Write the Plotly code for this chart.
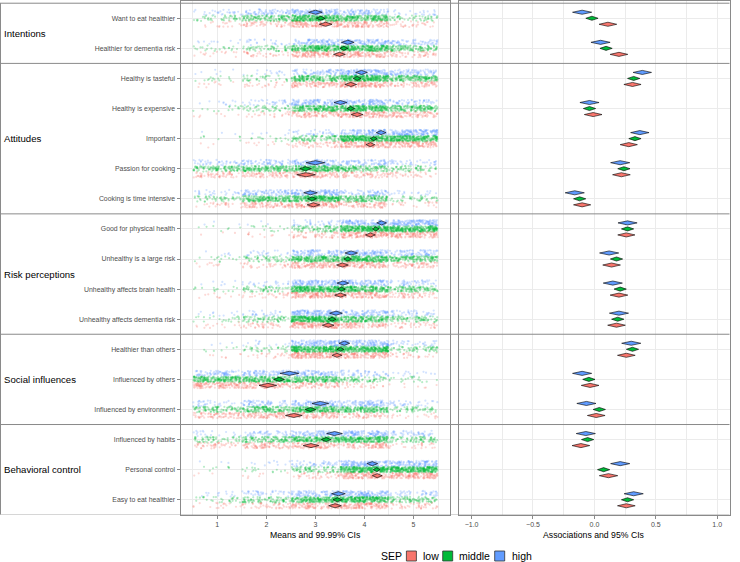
import math
import plotly.graph_objects as go

W, H = 740, 562

# ---------------- data ----------------
items = [
    "Want to eat healthier", "Healthier for dementia risk",
    "Healthy is tasteful", "Healthy is expensive", "Important",
    "Passion for cooking", "Cooking is time intensive",
    "Good for physical health", "Unhealthy is a large risk",
    "Unhealthy affects brain health", "Unhealthy affects dementia risk",
    "Healthier than others", "Influenced by others", "Influenced by environment",
    "Influenced by habits", "Personal control", "Easy to eat healthier",
]
groups = ["Intentions", "Attitudes", "Risk perceptions", "Social influences", "Behavioral control"]
group_n_items = [2, 5, 4, 3, 3]

sep_levels = ["low", "middle", "high"]
likert_levels = [1, 2, 3, 4, 5]
n_respondents = [340, 700, 320]   # respondents drawn per item (low, middle, high)

# % choosing response 1..5
pct_low = [
    [5, 15, 39, 32, 9], [4, 9, 36, 35, 16],
    [3, 6, 28, 42, 21], [2, 6, 26, 39, 27], [1, 3, 15, 43, 38], [17, 22, 31, 20, 10], [7, 26, 38, 23, 6],
    [1, 3, 15, 43, 38], [3, 9, 34, 35, 19], [3, 8, 40, 33, 16], [4, 11, 48, 26, 11],
    [2, 6, 46, 38, 8], [39, 30, 22, 7, 2], [22, 28, 29, 16, 5],
    [13, 24, 30, 26, 7], [1, 2, 11, 41, 45], [5, 13, 31, 39, 12],
]
pct_middle = [
    [6, 18, 40, 29, 7], [3, 8, 34, 37, 18],
    [2, 5, 25, 43, 25], [2, 7, 30, 38, 23], [1, 2, 13, 44, 40], [16, 24, 32, 19, 9], [7, 27, 38, 22, 6],
    [1, 2, 12, 43, 42], [2, 8, 31, 37, 22], [2, 8, 41, 33, 16], [3, 10, 48, 27, 12],
    [1, 5, 45, 40, 9], [30, 30, 27, 10, 3], [13, 22, 32, 25, 8],
    [8, 17, 30, 34, 11], [1, 2, 11, 42, 44], [4, 12, 31, 40, 13],
]
pct_high = [
    [8, 22, 37, 26, 7], [3, 7, 31, 38, 21],
    [2, 4, 22, 44, 28], [3, 10, 35, 35, 17], [1, 2, 10, 35, 52], [13, 20, 31, 24, 12], [8, 27, 38, 21, 6],
    [1, 1, 10, 37, 51], [2, 7, 30, 36, 25], [2, 7, 40, 35, 16], [3, 8, 46, 29, 14],
    [1, 4, 42, 43, 10], [24, 28, 29, 15, 4], [10, 19, 31, 30, 10],
    [6, 14, 28, 38, 14], [1, 3, 14, 42, 40], [4, 12, 30, 40, 14],
]

# means and 99.99% CI half-widths
mean_low = [3.21, 3.49, 3.72, 3.85, 4.12, 2.81, 2.96, 4.12, 3.55, 3.51, 3.26, 3.44, 2.03, 2.56, 2.91, 4.26, 3.40]
mean_middle = [3.11, 3.58, 3.85, 3.72, 4.19, 2.80, 2.93, 4.23, 3.66, 3.53, 3.34, 3.51, 2.26, 2.90, 3.22, 4.25, 3.45]
mean_high = [3.00, 3.66, 3.94, 3.51, 4.34, 3.00, 2.90, 4.35, 3.73, 3.56, 3.42, 3.59, 2.47, 3.10, 3.39, 4.16, 3.47]
ci_low = [0.13, 0.12, 0.12, 0.12, 0.09, 0.19, 0.13, 0.10, 0.12, 0.12, 0.12, 0.10, 0.18, 0.17, 0.16, 0.10, 0.13]
ci_middle = [0.09, 0.08, 0.08, 0.08, 0.07, 0.12, 0.09, 0.07, 0.08, 0.08, 0.08, 0.07, 0.11, 0.11, 0.10, 0.07, 0.09]
ci_high = [0.14, 0.13, 0.12, 0.13, 0.10, 0.19, 0.14, 0.10, 0.13, 0.12, 0.13, 0.11, 0.19, 0.17, 0.16, 0.11, 0.14]

# associations and 95% CI half-widths
assoc_low = [0.11, 0.20, 0.31, -0.01, 0.28, 0.22, -0.10, 0.26, 0.14, 0.20, 0.18, 0.26, -0.035, 0.015, -0.11, 0.115, 0.26]
assoc_middle = [-0.02, 0.095, 0.32, -0.04, 0.33, 0.24, -0.12, 0.27, 0.18, 0.21, 0.19, 0.31, -0.045, 0.04, -0.055, 0.075, 0.27]
assoc_high = [-0.10, 0.05, 0.39, -0.04, 0.37, 0.21, -0.16, 0.27, 0.12, 0.15, 0.20, 0.30, -0.10, -0.065, -0.07, 0.21, 0.32]
aci_low = [0.072, 0.072, 0.07, 0.072, 0.07, 0.072, 0.07, 0.07, 0.072, 0.072, 0.072, 0.072, 0.072, 0.072, 0.072, 0.075, 0.072]
aci_middle = [0.05, 0.05, 0.05, 0.05, 0.05, 0.05, 0.05, 0.05, 0.05, 0.05, 0.05, 0.05, 0.05, 0.05, 0.05, 0.05, 0.05]
aci_high = [0.078, 0.078, 0.075, 0.078, 0.075, 0.078, 0.078, 0.078, 0.078, 0.078, 0.078, 0.078, 0.078, 0.078, 0.078, 0.078, 0.078]

# ---------------- layout constants ----------------
sep_colors = ["#F8766D", "#00BA38", "#619CFF"]
row_offset = [0.2, 0.0, -0.2]
L_X0, L_X1 = 180.5, 450.3
R_X0, R_X1 = 459.3, 729.5
P_Y0, P_Y1 = 0.5, 514.5
Y_RANGE = [16.49, -0.59]
GRID = "#EBEBEB"
BORDER = "#8A8A8A"
FONT = "Liberation Sans, Arial, sans-serif"

_counter = [0]


def _hash01(k, seed):
    v = math.sin(k * 12.9898 + seed * 78.233) * 43758.5453
    return v - math.floor(v)


def jitter_cloud(pcts, n, row):
    """Deterministic jitter: each response spread within +-0.5 of its level."""
    xs, ys = [], []
    for lvl, p in zip(likert_levels, pcts):
        cnt = int(round(n * p / 100))
        for _ in range(cnt):
            _counter[0] += 1
            k = _counter[0]
            xs.append(lvl + (_hash01(k, 1.0) - 0.5) * 0.98)
            ys.append(row + (_hash01(k, 2.0) - 0.5) * 0.19)
    return xs, ys


def diamonds(centers, halfw, rows, dh=0.068):
    xs, ys = [], []
    for c, h, r in zip(centers, halfw, rows):
        xs += [c - h, c, c + h, c, c - h, None]
        ys += [r, r - dh, r, r + dh, r, None]
    return xs, ys


fig = go.Figure()

pcts_all = [pct_low, pct_middle, pct_high]
means_all = [mean_low, mean_middle, mean_high]
ci_all = [ci_low, ci_middle, ci_high]
assoc_all = [assoc_low, assoc_middle, assoc_high]
aci_all = [aci_low, aci_middle, aci_high]

# jittered responses
for s in [2, 1, 0]:
    xs, ys = [], []
    for i in range(len(items)):
        x, y = jitter_cloud(pcts_all[s][i], n_respondents[s], i + row_offset[s])
        xs += x
        ys += y
    fig.add_trace(go.Scatter(x=xs, y=ys, mode="markers", xaxis="x", yaxis="y",
                             marker=dict(size=2.2, color=sep_colors[s], opacity=0.28, line=dict(width=0)),
                             hoverinfo="skip", showlegend=False))

# mean diamonds and association diamonds
for s in [2, 1, 0]:
    rows = [i + row_offset[s] for i in range(len(items))]
    x, y = diamonds(means_all[s], ci_all[s], rows)
    fig.add_trace(go.Scatter(x=x, y=y, mode="lines", fill="toself", fillcolor=sep_colors[s],
                             line=dict(color="black", width=0.6), xaxis="x", yaxis="y",
                             hoverinfo="skip", showlegend=False))
    x, y = diamonds(assoc_all[s], aci_all[s], rows)
    fig.add_trace(go.Scatter(x=x, y=y, mode="lines", fill="toself", fillcolor=sep_colors[s],
                             line=dict(color="black", width=0.6), xaxis="x2", yaxis="y2",
                             hoverinfo="skip", showlegend=False))

common_y = dict(domain=[1 - P_Y1 / H, 1 - P_Y0 / H], range=Y_RANGE, tickmode="array",
                tickvals=list(range(len(items))), showgrid=True, gridcolor=GRID, gridwidth=1,
                showline=True, linecolor=BORDER, linewidth=1, mirror=True, zeroline=False,
                automargin=False)

fig.update_layout(
    width=W, height=H, margin=dict(l=0, r=0, t=0, b=0, pad=0),
    paper_bgcolor="white", plot_bgcolor="white", showlegend=False,
    font=dict(family=FONT, color="black"),
    xaxis=dict(domain=[L_X0 / W, L_X1 / W], range=[0.25, 5.75], anchor="y",
               tickmode="array", tickvals=[1, 2, 3, 4, 5], ticktext=["1", "2", "3", "4", "5"],
               ticks="outside", ticklen=3, tickcolor=BORDER, tickwidth=1,
               tickfont=dict(size=7, color="#4D4D4D", family=FONT),
               showgrid=True, gridcolor=GRID, gridwidth=1,
               minor=dict(tickvals=[0.5, 1.5, 2.5, 3.5, 4.5, 5.5], showgrid=True, gridcolor=GRID,
                          gridwidth=0.6, ticks=""),
               showline=True, linecolor=BORDER, linewidth=1, mirror=True, zeroline=False,
               automargin=False),
    yaxis=dict(anchor="x", ticktext=items, ticks="outside", ticklen=3, tickcolor=BORDER, tickwidth=1,
               tickfont=dict(size=6.9, color="#4D4D4D", family=FONT), **common_y),
    xaxis2=dict(domain=[R_X0 / W, R_X1 / W], range=[-1.1, 1.1], anchor="y2",
                tickmode="array", tickvals=[-1, -0.5, 0, 0.5, 1],
                ticktext=["\u22121.0", "\u22120.5", "0.0", "0.5", "1.0"],
                ticks="outside", ticklen=3, tickcolor=BORDER, tickwidth=1,
                tickfont=dict(size=7, color="#4D4D4D", family=FONT),
                showgrid=True, gridcolor=GRID, gridwidth=1,
                minor=dict(tickvals=[-0.75, -0.25, 0.25, 0.75], showgrid=True, gridcolor=GRID,
                           gridwidth=0.6, ticks=""),
                showline=True, linecolor=BORDER, linewidth=1, mirror=True, zeroline=False,
                automargin=False),
    yaxis2=dict(anchor="x2", showticklabels=False, ticks="", **common_y),
)

shapes = []
annotations = []

# group separators and label box
bounds = [-0.5]
for n in group_n_items:
    bounds.append(bounds[-1] + n)
for b in bounds:
    shapes.append(dict(type="line", xref="paper", yref="y", x0=0, x1=R_X1 / W, y0=b, y1=b,
                       line=dict(color=BORDER, width=1), layer="above"))
shapes.append(dict(type="line", xref="paper", yref="y", x0=0.5 / W, x1=0.5 / W, y0=bounds[0], y1=bounds[-1],
                   line=dict(color=BORDER, width=1), layer="above"))

for g, lo, hi in zip(groups, bounds[:-1], bounds[1:]):
    annotations.append(dict(text=g, xref="paper", yref="y", x=2 / W, y=(lo + hi) / 2,
                            xanchor="left", yanchor="middle", showarrow=False,
                            font=dict(size=9.6, color="black", family=FONT)))

# axis titles
annotations.append(dict(text="Means and 99.99% CIs", xref="paper", yref="paper",
                        x=(L_X0 + L_X1) / 2 / W, y=1 - 535 / H, xanchor="center", yanchor="middle",
                        showarrow=False, font=dict(size=8.7, color="black", family=FONT)))
annotations.append(dict(text="Associations and 95% CIs", xref="paper", yref="paper",
                        x=(R_X0 + R_X1) / 2 / W, y=1 - 535 / H, xanchor="center", yanchor="middle",
                        showarrow=False, font=dict(size=8.7, color="black", family=FONT)))

# legend
LEG_Y = 556
annotations.append(dict(text="SEP", xref="paper", yref="paper", x=379 / W, y=1 - LEG_Y / H,
                        xanchor="left", yanchor="middle", showarrow=False,
                        font=dict(size=10.5, color="black", family=FONT)))
box_x = [406.4, 442.7, 494.7]
text_x = [420.9, 457.3, 510.0]
for s in range(3):
    shapes.append(dict(type="rect", xref="paper", yref="paper",
                       x0=box_x[s] / W, x1=(box_x[s] + 10) / W,
                       y0=1 - (LEG_Y + 5) / H, y1=1 - (LEG_Y - 5) / H,
                       fillcolor=sep_colors[s], line=dict(color="#333333", width=0.8)))
    annotations.append(dict(text=sep_levels[s], xref="paper", yref="paper", x=text_x[s] / W,
                            y=1 - LEG_Y / H, xanchor="left", yanchor="middle", showarrow=False,
                            font=dict(size=10.5, color="black", family=FONT)))

fig.update_layout(shapes=shapes, annotations=annotations)
fig.write_html("out.html")
